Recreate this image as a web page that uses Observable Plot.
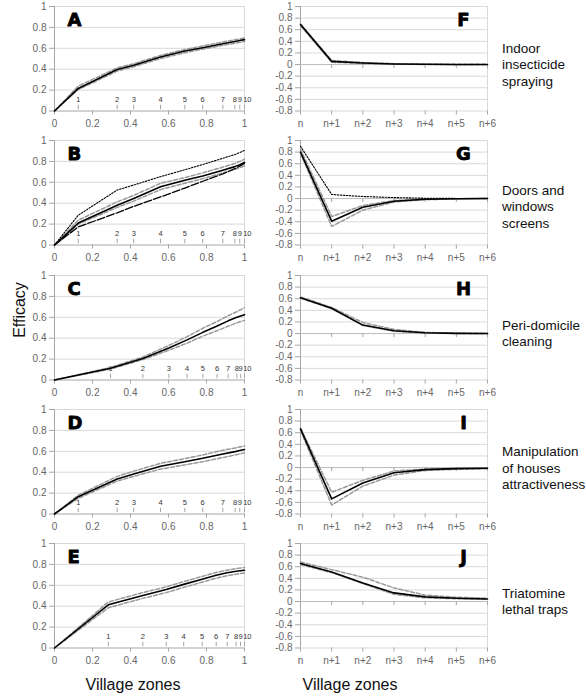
<!DOCTYPE html>
<html><head><meta charset="utf-8">
<script src="https://cdn.jsdelivr.net/npm/d3@7"></script>
<script src="https://cdn.jsdelivr.net/npm/@observablehq/plot@0.6"></script>
<style>
body{margin:0;background:#fff;font-family:"Liberation Sans",Arial,sans-serif;}
#wrap{position:relative;width:586px;height:698px;overflow:hidden;background:#fff;}
#wrap svg{position:absolute;overflow:visible;background:transparent;max-width:none;}
.lab{position:absolute;font-size:13.5px;line-height:16.5px;color:#111;white-space:nowrap;}
.big{position:absolute;font-size:16px;color:#111;white-space:nowrap;}
</style></head><body><div id="wrap"></div>
<script>
// ---------- data ----------
const zoneLabels = ["1","2","3","4","5","6","7","8","9","10"];
const zonesA = [0.125, 0.33, 0.417, 0.558, 0.686, 0.78, 0.886, 0.949, 0.975, 1.0];
const zonesB = [0.125, 0.33, 0.417, 0.558, 0.686, 0.78, 0.886, 0.949, 0.975, 1.0];
const zonesC = [0.295, 0.465, 0.602, 0.698, 0.781, 0.856, 0.914, 0.96, 0.98, 1.0];
const zonesD = [0.125, 0.33, 0.417, 0.558, 0.686, 0.78, 0.886, 0.951, 0.975, 1.0];
const zonesE = [0.283, 0.465, 0.588, 0.68, 0.777, 0.851, 0.909, 0.956, 0.979, 1.0];

const leftYTicks = [0, 0.2, 0.4, 0.6, 0.8, 1];
const leftXTicks = [0, 0.2, 0.4, 0.6, 0.8, 1];
const rightYTicks = [-0.8, -0.6, -0.4, -0.2, 0, 0.2, 0.4, 0.6, 0.8, 1];
const rightXIndex = [0, 1, 2, 3, 4, 5, 6];
const rightXLabels = ["n", "n+1", "n+2", "n+3", "n+4", "n+5", "n+6"];

// values at x = 0 then at each zone 1..10
const A_mean  = [0, 0.216, 0.397, 0.438, 0.517, 0.574, 0.606, 0.644, 0.665, 0.674, 0.683];
const A_upper = [0, 0.238, 0.412, 0.452, 0.532, 0.588, 0.622, 0.660, 0.682, 0.690, 0.700];
const A_lower = [0, 0.205, 0.382, 0.424, 0.502, 0.558, 0.592, 0.628, 0.648, 0.657, 0.665];

const B_mean   = [0, 0.210, 0.381, 0.446, 0.558, 0.620, 0.660, 0.715, 0.750, 0.768, 0.790];
const B_upper  = [0, 0.237, 0.413, 0.475, 0.590, 0.645, 0.690, 0.745, 0.780, 0.800, 0.820];
const B_lower  = [0, 0.200, 0.360, 0.420, 0.530, 0.590, 0.635, 0.690, 0.725, 0.740, 0.756];
const B_dotted = [0, 0.285, 0.526, 0.574, 0.654, 0.720, 0.770, 0.830, 0.865, 0.885, 0.905];
const B_dashed = [0, 0.173, 0.308, 0.370, 0.460, 0.545, 0.610, 0.680, 0.730, 0.755, 0.780];

const C_mean  = [0, 0.1125, 0.206, 0.306, 0.384, 0.456, 0.516, 0.566, 0.600, 0.613, 0.625];
const C_upper = [0, 0.120, 0.220, 0.330, 0.415, 0.495, 0.560, 0.615, 0.655, 0.672, 0.690];
const C_lower = [0, 0.105, 0.195, 0.285, 0.353, 0.420, 0.472, 0.515, 0.548, 0.560, 0.570];

const D_mean  = [0, 0.166, 0.335, 0.383, 0.457, 0.500, 0.533, 0.575, 0.597, 0.607, 0.617];
const D_upper = [0, 0.180, 0.360, 0.410, 0.485, 0.530, 0.565, 0.610, 0.632, 0.642, 0.652];
const D_lower = [0, 0.150, 0.315, 0.360, 0.430, 0.470, 0.500, 0.540, 0.565, 0.575, 0.585];

const E_mean  = [0, 0.413, 0.503, 0.560, 0.609, 0.657, 0.696, 0.720, 0.735, 0.740, 0.744];
const E_upper = [0, 0.440, 0.530, 0.585, 0.635, 0.685, 0.722, 0.745, 0.760, 0.765, 0.770];
const E_lower = [0, 0.385, 0.475, 0.530, 0.580, 0.630, 0.668, 0.692, 0.706, 0.712, 0.718];

// right panels: values at n, n+1, ..., n+6
const F_mean  = [0.69, 0.055, 0.027, 0.010, 0.004, 0.001, 0];
const F_upper = [0.70, 0.070, 0.035, 0.015, 0.006, 0.002, 0.001];
const F_lower = [0.67, 0.040, 0.020, 0.007, 0.002, 0, 0];

const G_mean   = [0.80, -0.39, -0.15, -0.047, -0.012, -0.003, 0];
const G_upper  = [0.85, -0.31, -0.12, -0.035, -0.010, -0.002, 0];
const G_lower  = [0.78, -0.48, -0.20, -0.060, -0.020, -0.005, 0];
const G_dotted = [0.90, 0.07, 0.035, 0.017, 0.006, 0.002, 0];

const H_mean  = [0.617, 0.437, 0.146, 0.048, 0.013, 0.003, 0];
const H_upper = [0.630, 0.450, 0.190, 0.070, 0.020, 0.005, 0.001];
const H_lower = [0.610, 0.430, 0.140, 0.040, 0.010, 0.002, 0];

const I_mean  = [0.666, -0.54, -0.265, -0.09, -0.035, -0.018, -0.012];
const I_upper = [0.680, -0.425, -0.22, -0.06, -0.025, -0.012, -0.008];
const I_lower = [0.640, -0.645, -0.32, -0.13, -0.05, -0.03, -0.02];

const J_mean  = [0.655, 0.51, 0.32, 0.149, 0.08, 0.057, 0.045];
const J_upper = [0.680, 0.55, 0.42, 0.235, 0.11, 0.075, 0.057];
const J_lower = [0.640, 0.50, 0.31, 0.125, 0.065, 0.048, 0.040];

const rowLabels = [
  ["Indoor", "insecticide", "spraying"],
  ["Doors and", "windows", "screens"],
  ["Peri-domicile", "cleaning"],
  ["Manipulation", "of houses", "attractiveness"],
  ["Triatomine", "lethal traps"]
];
const leftLetters = ["A", "B", "C", "D", "E"];
const rightLetters = ["F", "G", "H", "I", "J"];

// ---------- styles ----------
const styles = {
  gray:   {stroke: "#999", strokeWidth: 1.5, strokeDasharray: "4,2"},
  mean:   {stroke: "#000", strokeWidth: 1.6},
  dotted: {stroke: "#000", strokeWidth: 1.1, strokeDasharray: "1.5,1.5"},
  dashed: {stroke: "#000", strokeWidth: 1.3, strokeDasharray: "8,2"}
};
const leftPanels = [
  {zones: zonesA, series: [[A_upper,"gray"],[A_lower,"gray"],[A_mean,"mean"]]},
  {zones: zonesB, series: [[B_upper,"gray"],[B_lower,"gray"],[B_dashed,"dashed"],[B_dotted,"dotted"],[B_mean,"mean"]]},
  {zones: zonesC, series: [[C_upper,"gray"],[C_lower,"gray"],[C_mean,"mean"]]},
  {zones: zonesD, series: [[D_upper,"gray"],[D_lower,"gray"],[D_mean,"mean"]]},
  {zones: zonesE, series: [[E_upper,"gray"],[E_lower,"gray"],[E_mean,"mean"]]}
];
const rightPanels = [
  {series: [[F_upper,"gray"],[F_lower,"gray"],[F_mean,"mean"]]},
  {series: [[G_upper,"gray"],[G_lower,"gray"],[G_dotted,"dotted"],[G_mean,"mean"]]},
  {series: [[H_upper,"gray"],[H_lower,"gray"],[H_mean,"mean"]]},
  {series: [[I_upper,"gray"],[I_lower,"gray"],[I_mean,"mean"]]},
  {series: [[J_upper,"gray"],[J_lower,"gray"],[J_mean,"mean"]]}
];

// ---------- layout ----------
const wrap = document.getElementById("wrap");
const FONT = '"Liberation Sans", Arial, sans-serif';
const panelTop = i => 6 + i * 134.3;
const innerH = 104.5;
const MT = 6, MB = 24;
const labelTops = [40.5, 182.5, 317.5, 444, 585.5];
const tickFill = "#666", axisStroke = "#a6a6a6", gridStroke = "#d9d9d9";

function place(svg, left, top) {
  svg.style.left = left + "px";
  svg.style.top = top + "px";
  wrap.appendChild(svg);
}

function letterMark(letter, anchor, dx) {
  return Plot.text([letter], {
    frameAnchor: anchor, dx, dy: 19, lineAnchor: "bottom",
    textAnchor: anchor === "top-left" ? "start" : "middle",
    fontSize: 18, fontWeight: "bold", fontFamily: "DejaVu Sans",
    fill: "#000", stroke: "#000", strokeWidth: 0.8
  });
}

leftPanels.forEach((p, r) => {
  const xs = [0, ...p.zones];
  const lines = p.series.map(([vals, st]) =>
    Plot.line(xs.map((x, i) => ({x, y: vals[i]})), {x: "x", y: "y", ...styles[st]}));
  const n = p.zones.length;
  const svg = Plot.plot({
    width: 262, height: MT + innerH + MB,
    marginLeft: 54, marginRight: 18, marginTop: MT, marginBottom: MB,
    style: {fontFamily: FONT, background: "transparent", overflow: "visible"},
    x: {domain: [0, 1], label: null},
    y: {domain: [0, 1], label: null},
    marks: [
      Plot.gridY(leftYTicks.filter(d => d > 0), {stroke: gridStroke, strokeOpacity: 1}),
      Plot.ruleX([1], {stroke: gridStroke}),
      Plot.ruleX([0], {stroke: axisStroke}),
      Plot.ruleY([0], {stroke: axisStroke}),
      Plot.axisY(leftYTicks, {label: null, tickSize: 5, tickPadding: 3, stroke: axisStroke, fill: tickFill, fontSize: 10, tickFormat: d => String(d)}),
      Plot.axisX(leftXTicks, {label: null, tickSize: 4, tickPadding: 5, stroke: axisStroke, fill: tickFill, fontSize: 10, tickFormat: d => String(d)}),
      Plot.ruleX(p.zones, {y1: 0.012, y2: 0.055, stroke: axisStroke}),
      Plot.text(p.zones.slice(0, n - 1), {x: d => d, y: 0.105, text: (d, i) => zoneLabels[i], fontSize: 7.5, fill: "#333"}),
      Plot.text(p.zones.slice(n - 1), {x: d => d, y: 0.105, text: () => zoneLabels[n - 1], fontSize: 7.5, fill: "#333", textAnchor: "start", dx: -1.3}),
      ...lines,
      letterMark(leftLetters[r], "top-left", 13)
    ]
  });
  place(svg, 0, panelTop(r) - MT);
});

rightPanels.forEach((p, r) => {
  const lines = p.series.map(([vals, st]) =>
    Plot.line(rightXIndex.map((x, i) => ({x, y: vals[i]})), {x: "x", y: "y", ...styles[st]}));
  const svg = Plot.plot({
    width: 247, height: MT + innerH + MB,
    marginLeft: 50, marginRight: 10, marginTop: MT, marginBottom: MB,
    style: {fontFamily: FONT, background: "transparent", overflow: "visible"},
    x: {domain: [0, 6], label: null},
    y: {domain: [-0.8, 1], label: null},
    marks: [
      Plot.gridY(rightYTicks, {stroke: gridStroke, strokeOpacity: 1}),
      Plot.ruleX([6], {stroke: gridStroke}),
      Plot.ruleX([0], {stroke: axisStroke}),
      Plot.ruleY([0], {stroke: "#bdbdbd"}),
      Plot.ruleX(rightXIndex.slice(1), {y1: 0, y2: 0, insetBottom: -4, stroke: axisStroke}),
      Plot.axisY(rightYTicks, {label: null, tickSize: 5, tickPadding: 3, stroke: axisStroke, fill: tickFill, fontSize: 10, tickFormat: d => String(d)}),
      Plot.axisX(rightXIndex, {label: null, tickSize: 4, tickPadding: 5, stroke: axisStroke, fill: tickFill, fontSize: 10, tickFormat: i => rightXLabels[i]}),
      ...lines,
      letterMark(rightLetters[r], "top-right", -24)
    ]
  });
  place(svg, 250, panelTop(r) - MT);
  const lab = document.createElement("div");
  lab.className = "lab";
  lab.style.left = "502px";
  lab.style.top = labelTops[r] + "px";
  lab.innerHTML = rowLabels[r].join("<br>");
  wrap.appendChild(lab);
});

// axis titles
const eff = document.createElement("div");
eff.className = "big";
eff.textContent = "Efficacy";
eff.style.left = "20px"; eff.style.top = "310px";
eff.style.transform = "translate(-50%,-50%) rotate(-90deg)";
wrap.appendChild(eff);
[133, 350].forEach(cx => {
  const t = document.createElement("div");
  t.className = "big";
  t.textContent = "Village zones";
  t.style.left = cx + "px"; t.style.top = "676px";
  t.style.transform = "translateX(-50%)";
  wrap.appendChild(t);
});
</script></body></html>
